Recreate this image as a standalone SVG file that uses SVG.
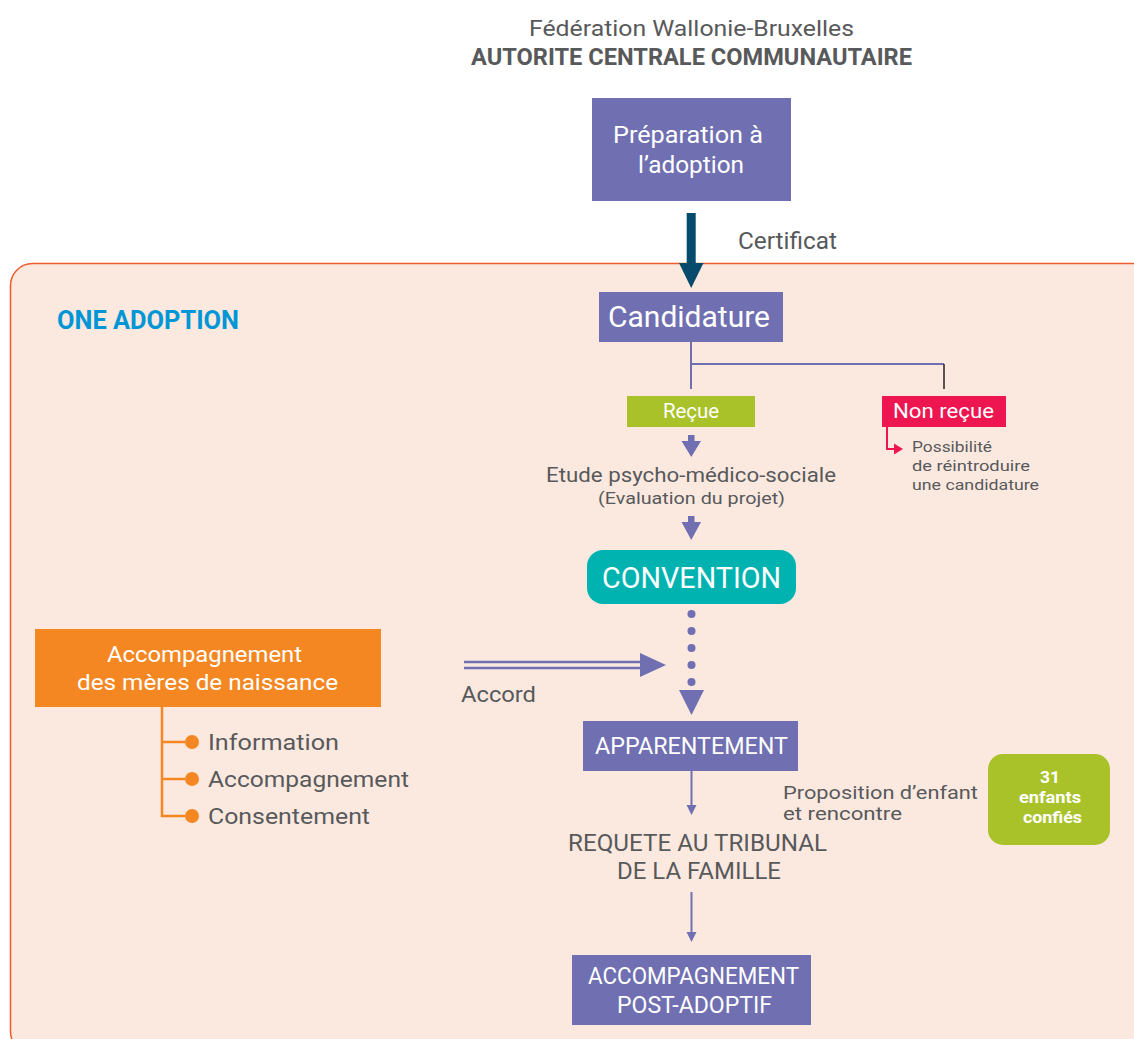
<svg xmlns="http://www.w3.org/2000/svg" width="1134" height="1039" viewBox="0 0 1134 1039">
<defs>
<style>
text{font-family:Roboto,"Liberation Sans",sans-serif;}
.g{fill:#58595b;}
.w{fill:#ffffff;}
.c{text-anchor:middle;}
.pbox{fill:#6f6fb1;}
.pl{stroke:#6f6fb1;stroke-width:2;fill:none;}
.ah{fill:#6f6fb1;}
.ol{stroke:#f58723;stroke-width:2.5;fill:none;}
.od{fill:#f58723;}
</style>
</defs>
<rect width="1134" height="1039" fill="#ffffff"/>
<rect id="panel" x="10.5" y="263.5" width="1150" height="790" rx="22" fill="#fbe9e0" stroke="#f15a2b" stroke-width="1.5"/>

<g id="header">
<text class="g c" x="691.5" y="36" font-size="22" textLength="325" lengthAdjust="spacingAndGlyphs">Fédération Wallonie-Bruxelles</text>
<text class="g c" x="691.5" y="65" font-size="23" font-weight="bold" textLength="441" lengthAdjust="spacingAndGlyphs">AUTORITE CENTRALE COMMUNAUTAIRE</text>
</g>

<g id="one-adoption">
<text x="57" y="329" font-size="25" font-weight="bold" fill="#0096d6" textLength="182" lengthAdjust="spacingAndGlyphs">ONE ADOPTION</text>
</g>

<g id="connectors">
<path d="M691.2,213 V265" stroke="#064b6b" stroke-width="9" fill="none"/>
<path d="M679,263 H703.5 L691.2,288 Z" fill="#064b6b"/>
<path class="pl" d="M691,342 V389 M691,364 H944"/>
<path d="M944,364 V389" stroke="#222" stroke-width="1.5" fill="none"/>
<path class="ah" d="M688,435 h6.5 v6 h6.5 l-9.75,16 l-9.75,-16 h6.5 Z"/>
<path class="ah" d="M688,516 h6.5 v6 h6.5 l-9.75,18 l-9.75,-18 h6.5 Z"/>
<g class="ah">
<circle cx="691.5" cy="614" r="4"/>
<circle cx="691.5" cy="631" r="4"/>
<circle cx="691.5" cy="648" r="4"/>
<circle cx="691.5" cy="665" r="4"/>
<circle cx="691.5" cy="682" r="4"/>
<path d="M679,690 H704 L691.5,715 Z"/>
</g>
<path d="M464,662 H642 M464,668 H642" stroke="#6f6fb1" stroke-width="2.5" fill="none"/>
<path class="ah" d="M640,653 L666,665 L640,677 Z"/>
<path class="pl" d="M691.5,771 V806"/>
<path class="ah" d="M686.5,805 H696.5 L691.5,815 Z"/>
<path class="pl" d="M691.5,892 V933"/>
<path class="ah" d="M686.5,932 H696.5 L691.5,942 Z"/>
<path d="M887,427 V449 H896" stroke="#ee1651" stroke-width="2" fill="none"/>
<path d="M894,443.5 L903,449 L894,454.5 Z" fill="#ee1651"/>
<path class="ol" d="M162,707 V816 H185 M162,742 H185 M162,779 H185"/>
<circle class="od" cx="192" cy="742" r="7"/>
<circle class="od" cx="192" cy="779" r="7"/>
<circle class="od" cx="192" cy="816" r="7"/>
</g>

<g id="preparation">
<rect class="pbox" x="592" y="98" width="199" height="103"/>
<text class="w c" x="688" y="143" font-size="23" textLength="150" lengthAdjust="spacingAndGlyphs">Préparation à</text>
<text class="w c" x="691" y="173" font-size="23" textLength="106" lengthAdjust="spacingAndGlyphs">l’adoption</text>
</g>
<g id="certificat">
<text class="g" x="738" y="249" font-size="23" textLength="99" lengthAdjust="spacingAndGlyphs">Certificat</text>
</g>
<g id="candidature">
<rect class="pbox" x="599" y="292" width="184" height="50"/>
<text class="w c" x="689" y="327" font-size="30" textLength="162" lengthAdjust="spacingAndGlyphs">Candidature</text>
</g>
<g id="recue">
<rect x="627" y="396" width="128" height="31" fill="#a9c22a"/>
<text class="w c" x="691" y="418" font-size="20" textLength="56" lengthAdjust="spacingAndGlyphs">Reçue</text>
</g>
<g id="non-recue">
<rect x="882" y="396" width="124" height="31" fill="#ee1651"/>
<text class="w c" x="943.5" y="418" font-size="20" textLength="101" lengthAdjust="spacingAndGlyphs">Non reçue</text>
<text class="g" x="912" y="452" font-size="15" textLength="80" lengthAdjust="spacingAndGlyphs">Possibilité</text>
<text class="g" x="912" y="471" font-size="15" textLength="118" lengthAdjust="spacingAndGlyphs">de réintroduire</text>
<text class="g" x="912" y="490" font-size="15" textLength="127" lengthAdjust="spacingAndGlyphs">une candidature</text>
</g>
<g id="etude">
<text class="g c" x="691" y="482" font-size="20" textLength="290" lengthAdjust="spacingAndGlyphs">Etude psycho-médico-sociale</text>
<text class="g c" x="691.5" y="504" font-size="17" textLength="187" lengthAdjust="spacingAndGlyphs">(Evaluation du projet)</text>
</g>
<g id="convention">
<rect x="587" y="550" width="209" height="54" rx="16" fill="#00b3b0"/>
<text class="w c" x="691.5" y="588" font-size="29" textLength="179" lengthAdjust="spacingAndGlyphs">CONVENTION</text>
</g>
<g id="accord">
<text class="g" x="461" y="702" font-size="22" textLength="75" lengthAdjust="spacingAndGlyphs">Accord</text>
</g>
<g id="apparentement">
<rect class="pbox" x="583" y="721" width="215" height="50"/>
<text class="w c" x="691.5" y="754" font-size="23" textLength="193" lengthAdjust="spacingAndGlyphs">APPARENTEMENT</text>
</g>
<g id="proposition">
<text class="g" x="783" y="799" font-size="18" textLength="195" lengthAdjust="spacingAndGlyphs">Proposition d’enfant</text>
<text class="g" x="783" y="820" font-size="18" textLength="119" lengthAdjust="spacingAndGlyphs">et rencontre</text>
</g>
<g id="enfants">
<rect x="988" y="754" width="122" height="91" rx="15" fill="#a9c22a"/>
<text class="w c" x="1050" y="783" font-size="16" font-weight="bold" textLength="20" lengthAdjust="spacingAndGlyphs">31</text>
<text class="w c" x="1050" y="803" font-size="16" font-weight="bold" textLength="62" lengthAdjust="spacingAndGlyphs">enfants</text>
<text class="w c" x="1052.5" y="823" font-size="16" font-weight="bold" textLength="59" lengthAdjust="spacingAndGlyphs">confiés</text>
</g>
<g id="requete">
<text class="g c" x="697.5" y="851" font-size="23" textLength="259" lengthAdjust="spacingAndGlyphs">REQUETE AU TRIBUNAL</text>
<text class="g c" x="699" y="879" font-size="23" textLength="164" lengthAdjust="spacingAndGlyphs">DE LA FAMILLE</text>
</g>
<g id="post-adoptif">
<rect class="pbox" x="572" y="955" width="239" height="70"/>
<text class="w c" x="693.5" y="984" font-size="23" textLength="211" lengthAdjust="spacingAndGlyphs">ACCOMPAGNEMENT</text>
<text class="w c" x="694.5" y="1013" font-size="23" textLength="155" lengthAdjust="spacingAndGlyphs">POST-ADOPTIF</text>
</g>
<g id="meres">
<rect x="35" y="629" width="346" height="78" fill="#f58723"/>
<text class="w c" x="204.5" y="662" font-size="22" textLength="195" lengthAdjust="spacingAndGlyphs">Accompagnement</text>
<text class="w c" x="207.5" y="690" font-size="22" textLength="261" lengthAdjust="spacingAndGlyphs">des mères de naissance</text>
</g>
<g id="meres-items">
<text class="g" x="208" y="750" font-size="22" textLength="131" lengthAdjust="spacingAndGlyphs">Information</text>
<text class="g" x="208" y="787" font-size="22" textLength="201" lengthAdjust="spacingAndGlyphs">Accompagnement</text>
<text class="g" x="208" y="824" font-size="22" textLength="162" lengthAdjust="spacingAndGlyphs">Consentement</text>
</g>
</svg>
